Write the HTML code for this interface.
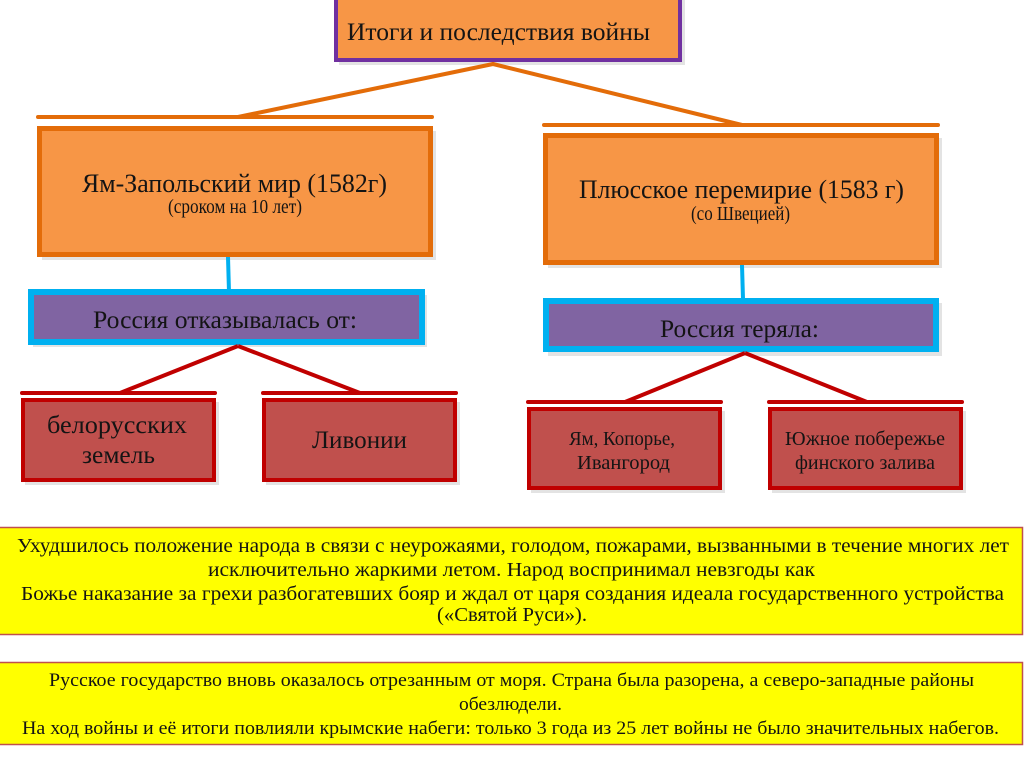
<!DOCTYPE html>
<html>
<head>
<meta charset="utf-8">
<style>
html,body{margin:0;padding:0;background:#ffffff;}
body{width:1024px;height:767px;overflow:hidden;}
svg{display:block;}
text{font-family:"Liberation Serif","Noto Serif CJK SC",serif;fill:#141414;}
</style>
</head>
<body>
<svg width="1024" height="767" viewBox="0 0 1024 767" xmlns="http://www.w3.org/2000/svg">
  <rect x="0" y="0" width="1024" height="767" fill="#ffffff"/>

  <!-- Title box -->
  <rect x="339" y="-8" width="346" height="73" fill="#b0b0b0" opacity="0.35"/>
  <rect x="336" y="-10" width="344" height="70" fill="#f79646" stroke="#7030a0" stroke-width="4"/>
  <text x="347" y="40" font-size="25" textLength="303" lengthAdjust="spacingAndGlyphs">Итоги и последствия войны</text>

  <!-- Orange connectors -->
  <line x1="493" y1="64" x2="238" y2="117" stroke="#e36c09" stroke-width="4" stroke-linecap="round"/>
  <line x1="493" y1="64" x2="742" y2="125" stroke="#e36c09" stroke-width="4" stroke-linecap="round"/>
  <line x1="38" y1="117" x2="432" y2="117" stroke="#e36c09" stroke-width="4" stroke-linecap="round"/>
  <line x1="544" y1="125" x2="938" y2="125" stroke="#e36c09" stroke-width="4" stroke-linecap="round"/>

  <!-- Left orange box -->
  <rect x="42" y="131" width="394" height="129" fill="#b0b0b0" opacity="0.35"/>
  <rect x="39.5" y="128.5" width="391" height="126" fill="#f79646" stroke="#e36c09" stroke-width="5"/>
  <text x="82" y="192" font-size="26" textLength="305" lengthAdjust="spacingAndGlyphs">Ям-Запольский мир (1582г)</text>
  <text x="168" y="213" font-size="20" textLength="134" lengthAdjust="spacingAndGlyphs">(сроком на 10 лет)</text>

  <!-- Right orange box -->
  <rect x="548" y="138" width="394" height="130" fill="#b0b0b0" opacity="0.35"/>
  <rect x="545.5" y="135.5" width="391" height="127" fill="#f79646" stroke="#e36c09" stroke-width="5"/>
  <text x="579" y="198" font-size="26" textLength="325" lengthAdjust="spacingAndGlyphs">Плюсское перемирие (1583 г)</text>
  <text x="691" y="220" font-size="20" textLength="99" lengthAdjust="spacingAndGlyphs">(со Швецией)</text>

  <!-- Blue connectors -->
  <line x1="228" y1="257" x2="229" y2="292" stroke="#00b0f0" stroke-width="4"/>
  <line x1="742" y1="265" x2="743" y2="299" stroke="#00b0f0" stroke-width="4"/>

  <!-- Purple boxes -->
  <rect x="33" y="295" width="394" height="52" fill="#b0b0b0" opacity="0.35"/>
  <rect x="31" y="292" width="391" height="50" fill="#8064a2" stroke="#00b0f0" stroke-width="6"/>
  <text x="93" y="328" font-size="25" textLength="264" lengthAdjust="spacingAndGlyphs">Россия отказывалась от:</text>

  <rect x="548" y="303" width="394" height="53" fill="#b0b0b0" opacity="0.35"/>
  <rect x="546" y="301" width="390" height="48" fill="#8064a2" stroke="#00b0f0" stroke-width="6"/>
  <text x="660" y="337" font-size="25" textLength="159" lengthAdjust="spacingAndGlyphs">Россия теряла:</text>

  <!-- Red connectors -->
  <line x1="238" y1="346" x2="120" y2="393" stroke="#c00000" stroke-width="4"/>
  <line x1="238" y1="346" x2="360" y2="393" stroke="#c00000" stroke-width="4"/>
  <line x1="22" y1="393" x2="215" y2="393" stroke="#c00000" stroke-width="4" stroke-linecap="round"/>
  <line x1="263" y1="393" x2="456" y2="393" stroke="#c00000" stroke-width="4" stroke-linecap="round"/>

  <line x1="745" y1="353" x2="625" y2="402" stroke="#c00000" stroke-width="4"/>
  <line x1="745" y1="353" x2="867" y2="402" stroke="#c00000" stroke-width="4"/>
  <line x1="528" y1="402" x2="721" y2="402" stroke="#c00000" stroke-width="4" stroke-linecap="round"/>
  <line x1="769" y1="402" x2="962" y2="402" stroke="#c00000" stroke-width="4" stroke-linecap="round"/>

  <!-- Red boxes -->
  <rect x="25" y="402" width="194" height="83" fill="#b0b0b0" opacity="0.35"/>
  <rect x="23" y="400" width="191" height="80" fill="#c0504d" stroke="#c00000" stroke-width="4"/>
  <text x="47" y="433" font-size="25" textLength="140" lengthAdjust="spacingAndGlyphs">белорусских</text>
  <text x="82" y="463" font-size="25" textLength="73" lengthAdjust="spacingAndGlyphs">земель</text>

  <rect x="266" y="402" width="194" height="83" fill="#b0b0b0" opacity="0.35"/>
  <rect x="264" y="400" width="191" height="80" fill="#c0504d" stroke="#c00000" stroke-width="4"/>
  <text x="312" y="448" font-size="25" textLength="95" lengthAdjust="spacingAndGlyphs">Ливонии</text>

  <rect x="531" y="411" width="194" height="82" fill="#b0b0b0" opacity="0.35"/>
  <rect x="529" y="409" width="191" height="79" fill="#c0504d" stroke="#c00000" stroke-width="4"/>
  <text x="569" y="445" font-size="20" textLength="106" lengthAdjust="spacingAndGlyphs">Ям, Копорье,</text>
  <text x="577" y="469" font-size="20" textLength="93" lengthAdjust="spacingAndGlyphs">Ивангород</text>

  <rect x="772" y="411" width="194" height="82" fill="#b0b0b0" opacity="0.35"/>
  <rect x="770" y="409" width="191" height="79" fill="#c0504d" stroke="#c00000" stroke-width="4"/>
  <text x="785" y="445" font-size="20" textLength="160" lengthAdjust="spacingAndGlyphs">Южное побережье</text>
  <text x="795" y="469" font-size="20" textLength="140" lengthAdjust="spacingAndGlyphs">финского залива</text>

  <!-- Yellow box 1 -->
  <rect x="-2" y="527.5" width="1024.5" height="107" fill="#ffff00" stroke="#c0504d" stroke-width="1.5"/>
  <text x="17" y="552" font-size="20.5" textLength="992" lengthAdjust="spacingAndGlyphs">Ухудшилось положение народа в связи с неурожаями, голодом, пожарами, вызванными в течение многих лет</text>
  <text x="208" y="576" font-size="20.5" textLength="607" lengthAdjust="spacingAndGlyphs">исключительно жаркими летом. Народ воспринимал невзгоды как</text>
  <text x="21" y="600" font-size="20.5" textLength="983" lengthAdjust="spacingAndGlyphs">Божье наказание за грехи разбогатевших бояр и ждал от царя создания идеала государственного устройства</text>
  <text x="437" y="621" font-size="20.5" textLength="150" lengthAdjust="spacingAndGlyphs">(«Святой Руси»).</text>

  <!-- Yellow box 2 -->
  <rect x="-2" y="662.5" width="1024.5" height="82" fill="#ffff00" stroke="#c0504d" stroke-width="1.5"/>
  <text x="49" y="686" font-size="19" textLength="925" lengthAdjust="spacingAndGlyphs">Русское государство вновь оказалось отрезанным от моря. Страна была разорена, а северо-западные районы</text>
  <text x="459" y="710" font-size="19" textLength="103" lengthAdjust="spacingAndGlyphs">обезлюдели.</text>
  <text x="22" y="734" font-size="19" textLength="977" lengthAdjust="spacingAndGlyphs">На ход войны и её итоги повлияли крымские набеги: только 3 года из 25 лет войны не было значительных набегов.</text>
</svg>
</body>
</html>
